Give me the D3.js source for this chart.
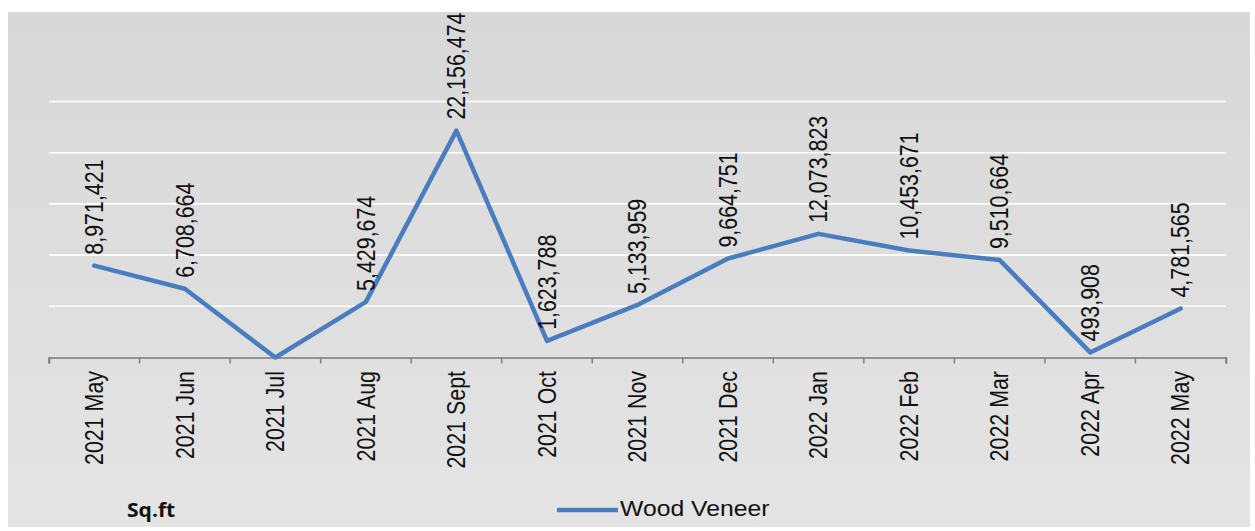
<!DOCTYPE html>
<html><head><meta charset="utf-8">
<script src="https://cdn.jsdelivr.net/npm/d3@7"></script>
<style>html,body{margin:0;padding:0;background:#fff;} svg{display:block;}</style>
</head><body><svg id="c" width="1255" height="531"></svg>
<script>
const categories = ["2021 May","2021 Jun","2021 Jul","2021 Aug","2021 Sept","2021 Oct","2021 Nov","2021 Dec","2022 Jan","2022 Feb","2022 Mar","2022 Apr","2022 May"];
const values = [8971421, 6708664, 0, 5429674, 22156474, 1623788, 5133959, 9664751, 12073823, 10453671, 9510664, 493908, 4781565];
const dataLabels = ["8,971,421","6,708,664",null,"5,429,674","22,156,474","1,623,788","5,133,959","9,664,751","12,073,823","10,453,671","9,510,664","493,908","4,781,565"];
const yTicks = [0, 5000000, 10000000, 15000000, 20000000, 25000000];
const seriesName = "Wood Veneer";
const unitLabel = "Sq.ft";

const svg = d3.select("#c");
const W = 1255, H = 531;
const FONT = "'Liberation Sans', Arial, sans-serif";
const BLUE = "#4a7dc0";

const defs = svg.append("defs");
const grad = defs.append("linearGradient").attr("id","bg").attr("x1",0).attr("y1",0).attr("x2",0).attr("y2",1);
grad.append("stop").attr("offset","0%").attr("stop-color","#d8d8d8");
grad.append("stop").attr("offset","100%").attr("stop-color","#e4e4e4");

svg.append("rect").attr("width",W).attr("height",H).attr("fill","#fff");
svg.append("rect").attr("x",8).attr("y",12).attr("width",1242).attr("height",515).attr("fill","url(#bg)");

const x = d3.scaleBand().domain(categories).range([49, 1226]).padding(0);
const y = d3.scaleLinear().domain([0, 25000000]).range([357.5, 101.5]);
const cx = c => x(c) + x.bandwidth()/2;

// gridlines
svg.append("g").selectAll("line").data(yTicks.filter(t => t > 0)).join("line")
  .attr("x1", x.range()[0]).attr("x2", x.range()[1])
  .attr("y1", d => y(d)).attr("y2", d => y(d))
  .attr("stroke", "#ffffff").attr("stroke-width", 1.6);

// x axis
const axisG = svg.append("g").attr("transform", `translate(0,${y(0)})`)
  .call(d3.axisBottom(x).tickSizeInner(0).tickSizeOuter(6).tickFormat(""));
axisG.select(".domain").attr("stroke", "#7a7a7a").attr("stroke-width", 1.6);
axisG.selectAll(".tick").remove();
const bounds = categories.map(c => x(c)).concat([x.range()[1]]);
axisG.selectAll("line.b").data(bounds).join("line").attr("class","b")
  .attr("x1", d => d).attr("x2", d => d).attr("y1", 0).attr("y2", 6)
  .attr("stroke", "#7a7a7a").attr("stroke-width", 1.4);

// category labels
svg.append("g").selectAll("text").data(categories).join("text")
  .attr("transform", d => `translate(${cx(d)},371) scale(1.17,1) rotate(-90)`)
  .attr("text-anchor", "end").attr("dy", "0.35em")
  .attr("font-family", FONT).attr("font-size", 21.4).attr("fill", "#111")
  .text(d => d);

// line
const line = d3.line().x((d,i) => cx(categories[i])).y(d => y(d));
svg.append("path").datum(values).attr("d", line)
  .attr("fill", "none").attr("stroke", BLUE).attr("stroke-width", 4.5)
  .attr("stroke-linejoin", "round").attr("stroke-linecap", "round");

// data labels
svg.append("g").selectAll("text").data(values.map((v,i) => ({v, i, t: dataLabels[i]})).filter(d => d.t))
  .join("text")
  .attr("transform", d => `translate(${cx(categories[d.i])},${y(d.v) - 11}) scale(1.17,1) rotate(-90)`)
  .attr("text-anchor", "start").attr("dy", "0.35em")
  .attr("font-family", FONT).attr("font-size", 21.4).attr("fill", "#111")
  .text(d => d.t);

// legend
svg.append("line").attr("x1", 557).attr("x2", 618).attr("y1", 510).attr("y2", 510)
  .attr("stroke", BLUE).attr("stroke-width", 4.5);
svg.append("text").attr("transform", "translate(620,516) scale(1.11,1)")
  .attr("font-family", FONT).attr("font-size", 22.3).attr("fill", "#111").text(seriesName);

// unit label
svg.append("text").attr("transform", "translate(127,517) scale(1.11,1)")
  .attr("font-family", "'Open Sans', sans-serif").attr("font-weight", 700)
  .attr("font-size", 19).attr("fill", "#111").text(unitLabel);
</script></body></html>
